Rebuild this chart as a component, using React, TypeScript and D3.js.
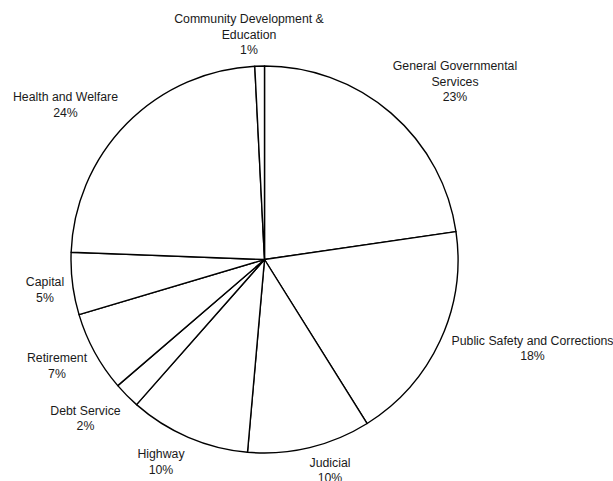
import React from "react";
import * as d3 from "d3";

// ---- data ----
const categories: string[] = [
  "General Governmental Services",
  "Public Safety and Corrections",
  "Judicial",
  "Highway",
  "Debt Service",
  "Retirement",
  "Capital",
  "Health and Welfare",
  "Community Development & Education",
];
const values: number[] = [22.7, 18.4, 10.3, 10.1, 2.2, 6.7, 5.2, 23.6, 0.8];
const labelLines: string[][] = [
  ["General Governmental", "Services"],
  ["Public Safety and Corrections"],
  ["Judicial"],
  ["Highway"],
  ["Debt Service"],
  ["Retirement"],
  ["Capital"],
  ["Health and Welfare"],
  ["Community Development &", "Education"],
];

// ---- layout (label centres of first line) ----
const labelLayout: [number, number][] = [
  [455, 66],
  [532.5, 340.5],
  [330, 462.5],
  [161, 454],
  [85.5, 410.5],
  [57, 358],
  [45, 282],
  [65.5, 97],
  [249, 19],
];

const W = 613;
const H = 481;
const CX = 264.5;
const CY = 259.5;
const R = 193.5;
const LINE = 15.5;
const FONT = 12.3;

export default function App() {
  const total = d3.sum(values);
  const pie = d3
    .pie<number>()
    .sort(null)
    .startAngle(0)
    .endAngle(2 * Math.PI)
    .value((d) => d);
  const arcs = pie(values);
  const arc = d3.arc<d3.PieArcDatum<number>>().innerRadius(0).outerRadius(R);

  return (
    <svg
      width={W}
      height={H}
      style={{ position: "absolute", left: 0, top: 0, background: "#fff" }}
      fontFamily="'Liberation Sans', Arial, sans-serif"
      fontSize={FONT}
    >
      <rect x={0} y={0} width={W} height={H} fill="#fff" />
      <g transform={`translate(${CX},${CY})`}>
        {arcs.map((a, i) => (
          <path
            key={categories[i]}
            d={arc(a) || ""}
            fill="#fff"
            stroke="#000"
            strokeWidth={1.4}
            strokeLinejoin="round"
          />
        ))}
      </g>
      {arcs.map((a, i) => {
        const [x, y] = labelLayout[i];
        const lines = [...labelLines[i], `${Math.round((values[i] / total) * 100)}%`];
        return (
          <text key={"l" + i} textAnchor="middle" fill="#1a1a1a">
            {lines.map((ln, j) => (
              <tspan key={j} x={x} y={y + j * LINE + FONT * 0.35}>
                {ln}
              </tspan>
            ))}
          </text>
        );
      })}
    </svg>
  );
}
